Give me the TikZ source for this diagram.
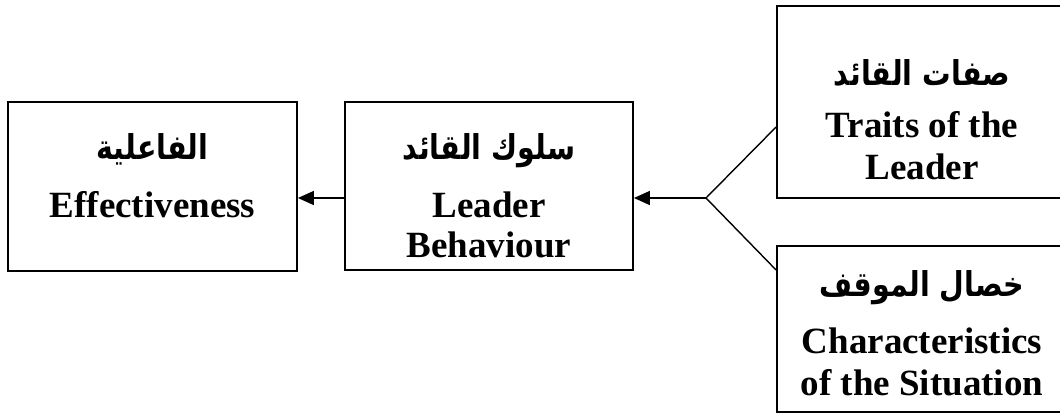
\documentclass[tikz,border=0pt]{standalone}
\usepackage{fontspec}
\setmainfont{Liberation Serif}
\newfontfamily\arabicfont[Script=Arabic]{DejaVu Sans}
\TeXXeTstate=1
\usetikzlibrary{arrows.meta,calc}
\newcommand{\artxt}[1]{\scalebox{1}[1.2]{\beginR #1\endR}}
\tikzset{
  boxnode/.style={draw=black, line width=1.8pt, rectangle, inner sep=0pt},
  entext/.style={anchor=base, inner sep=0pt, font=\fontsize{37}{42}\selectfont\bfseries},
  artext/.style={anchor=base, inner sep=0pt, font=\fontsize{28.5}{32}\selectfont\arabicfont\bfseries},
  link/.style={draw=black, line width=1.4pt},
  arrowlink/.style={link, -{Triangle[length=16pt, width=14pt]}}
}
\begin{document}
\begin{tikzpicture}[x=1pt, y=-1pt]
\useasboundingbox (0,0) rectangle (1060,414);
\begin{scope}
\clip (0,0) rectangle (1060,414);
% boxes
\node[boxnode, minimum width=289pt, minimum height=169pt] (eff) at (152.5,186.5) {};
\node[boxnode, minimum width=288pt, minimum height=168pt] (beh) at (489,186) {};
\node[boxnode, minimum width=290pt, minimum height=192pt] (traits) at (922,102) {};
\node[boxnode, minimum width=290pt, minimum height=166pt] (sit) at (922,329) {};
\end{scope}
% texts
\node[artext] (effar) at (152.5,160) {\artxt{الفاعلية}};
\node[entext] (effen) at (152.5,218) {Effectiveness};
\node[artext] (behar) at (489,160) {\artxt{سلوك القائد}};
\node[entext] (behen1) at (489,218) {Leader};
\node[entext] (behen2) at (489,258) {Behaviour};
\node[artext] (trar) at (922,86) {\artxt{صفات القائد}};
\node[entext] (tren1) at (922,138) {Traits of the};
\node[entext] (tren2) at (922,180) {Leader};
\node[artext] (sitar) at (922,296) {\artxt{خصال الموقف}};
\node[entext] (siten1) at (922,353) {Characteristics};
\node[entext] (siten2) at (922,395) {of the Situation};
% connectors
\coordinate (fork) at (706,198);
\draw[link] ($(traits.west)+(0,25)$) -- (fork) -- ($(sit.west)+(0,-59)$);
\draw[arrowlink] (fork) -- (beh.east |- fork);
\draw[arrowlink] (beh.west |- fork) -- (eff.east |- fork);
\end{tikzpicture}
\end{document}
